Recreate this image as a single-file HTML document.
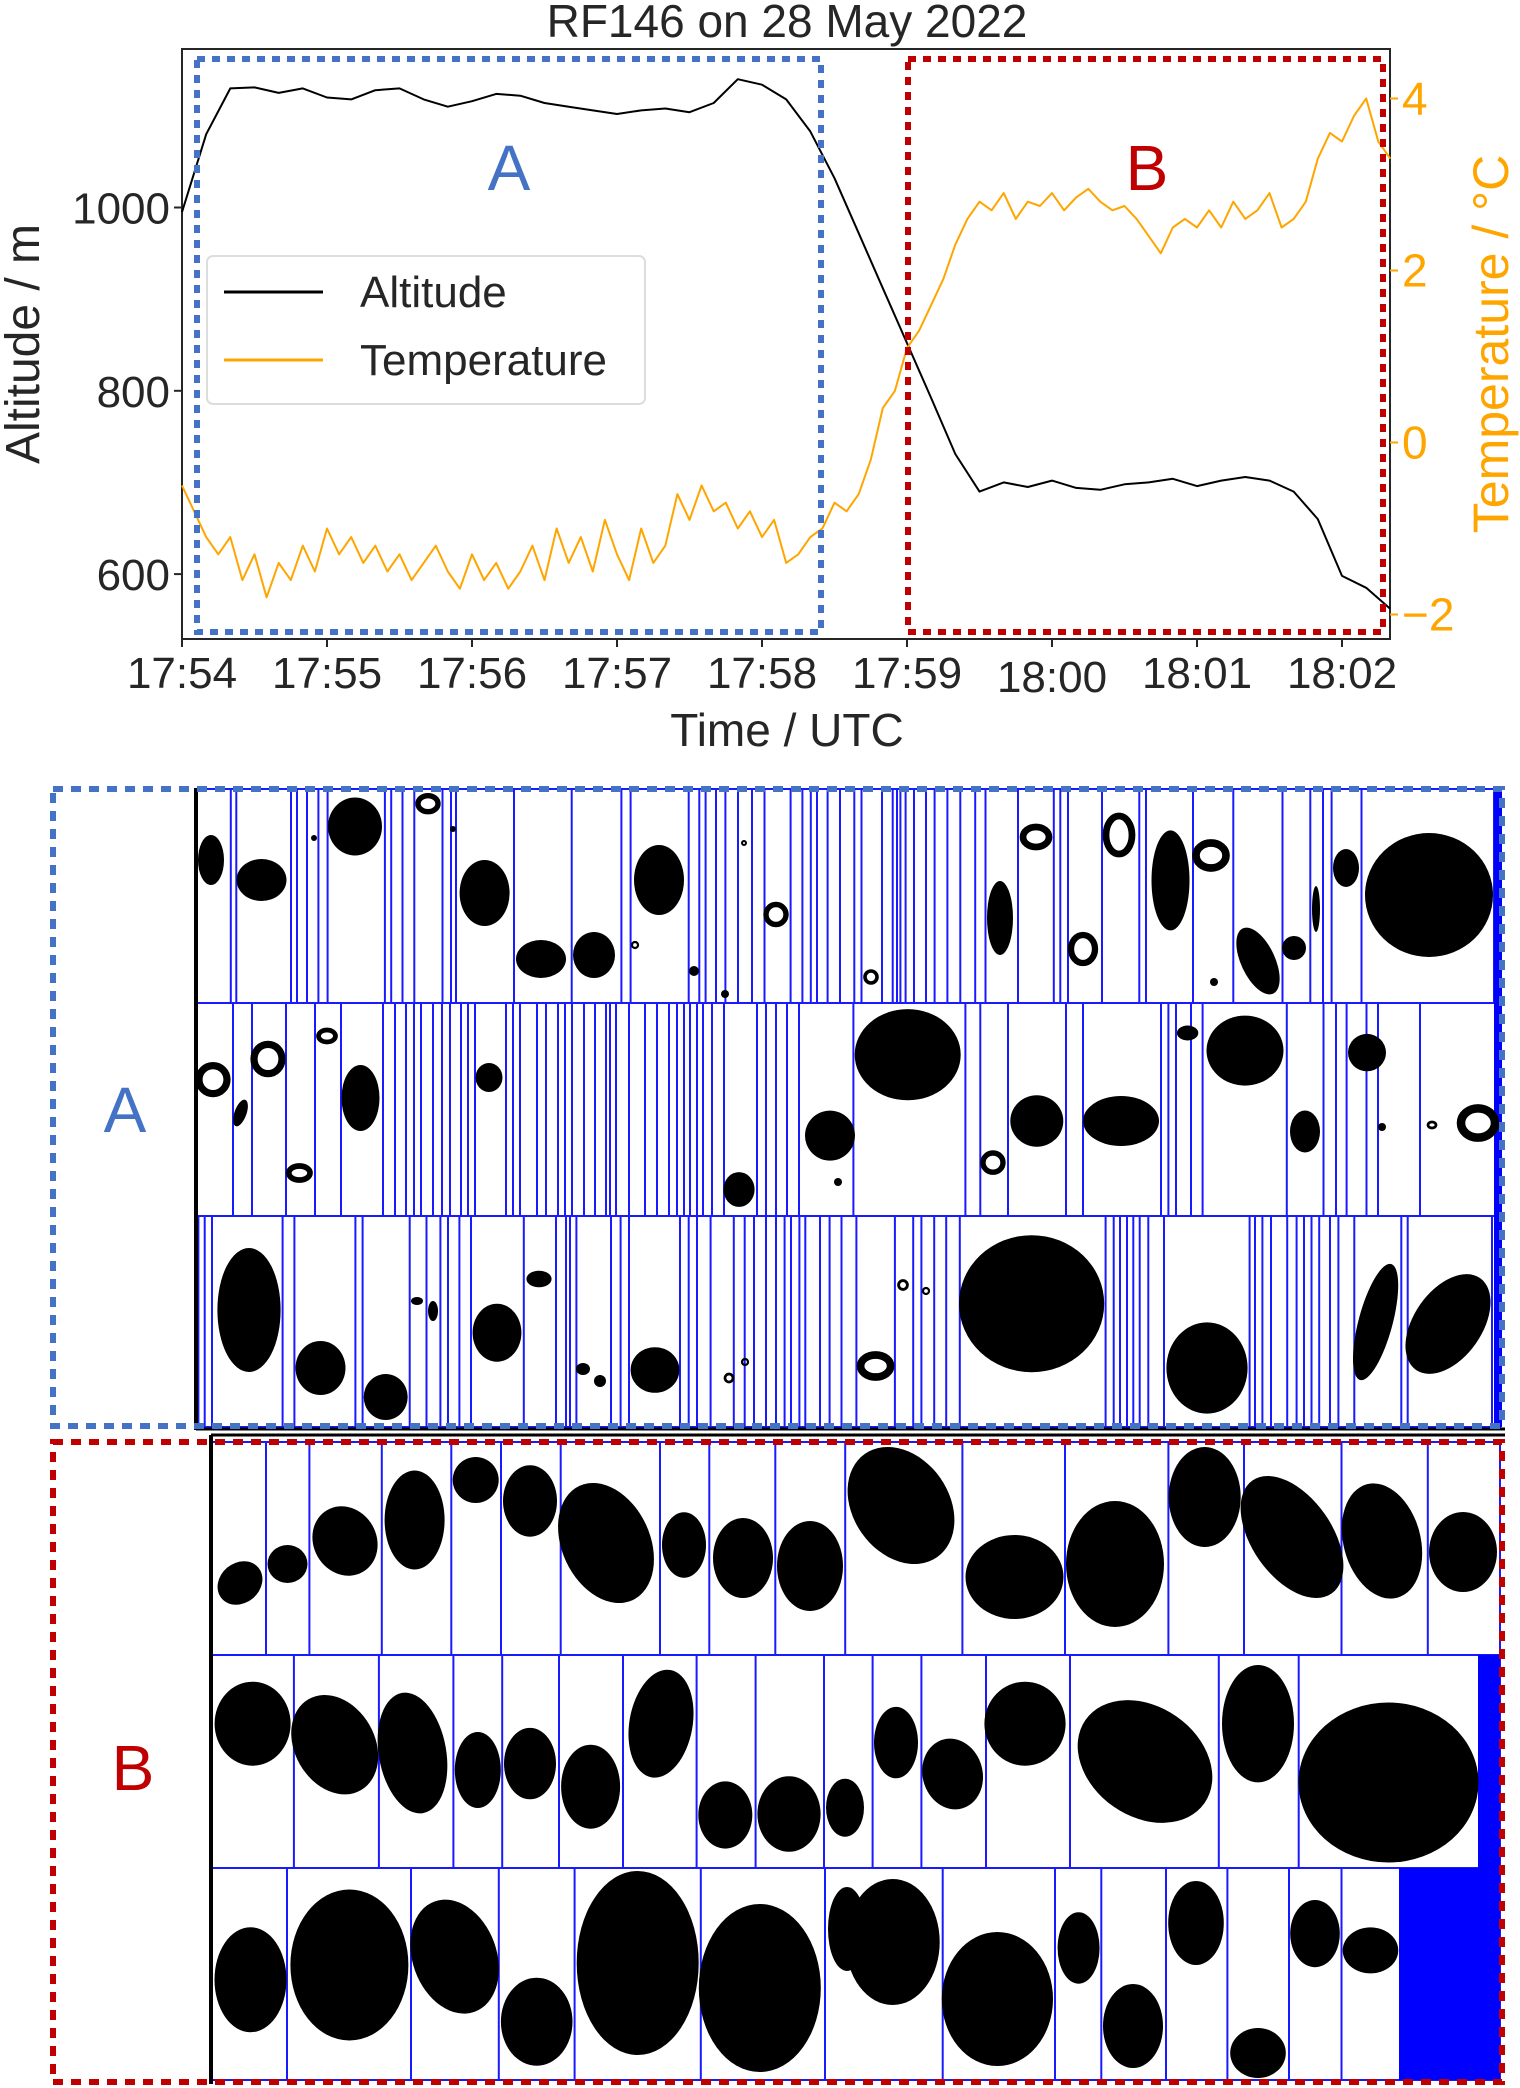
<!DOCTYPE html>
<html><head><meta charset="utf-8"><style>
html,body{margin:0;padding:0;background:#fff;}
svg{display:block;font-family:"Liberation Sans",Arial,sans-serif;}
</style></head><body>
<svg id="fig" width="1520" height="2088" viewBox="0 0 1520 2088" xmlns="http://www.w3.org/2000/svg">
<rect x="0" y="0" width="1520" height="2088" fill="#fff"/>
<g id="chart"></g>
<g id="panels"></g>
</svg>
<script>
// ---------- chart data ----------
const altTimes = [0,10,20,30,40,50,60,70,80,90,100,110,120,130,140,150,160,170,180,190,200,210,220,230,240,250,260,270,280,290,300,310,320,330,340,350,360,370,380,390,400,410,420,430,440,450,460,470,480,490,500];
const altitudeValues = [995,1080,1130,1131,1125,1130,1120,1118,1128,1130,1118,1110,1116,1124,1122,1114,1110,1106,1102,1106,1108,1104,1114,1140,1134,1118,1083,1032,972,912,852,792,731,690,700,695,702,694,692,698,700,704,696,702,706,702,690,660,598,585,562];
const tempTimes = [0,5,10,15,20,25,30,35,40,45,50,55,60,65,70,75,80,85,90,95,100,105,110,115,120,125,130,135,140,145,150,155,160,165,170,175,180,185,190,195,200,205,210,215,220,225,230,235,240,245,250,255,260,265,270,275,280,285,290,295,300,305,310,315,320,325,330,335,340,345,350,355,360,365,370,375,380,385,390,395,400,405,410,415,420,425,430,435,440,445,450,455,460,465,470,475,480,485,490,495,500];
const temperatureValues = [-0.5,-0.8,-1.1,-1.3,-1.1,-1.6,-1.3,-1.8,-1.4,-1.6,-1.2,
 -1.5,-1.0,-1.3,-1.1,-1.4,-1.2,-1.5,-1.3,-1.6,-1.4,
 -1.2,-1.5,-1.7,-1.3,-1.6,-1.4,-1.7,-1.5,-1.2,-1.6,
 -1.0,-1.4,-1.1,-1.5,-0.9,-1.3,-1.6,-1.0,-1.4,-1.2,
 -0.6,-0.9,-0.5,-0.8,-0.7,-1.0,-0.8,-1.1,-0.9,-1.4,
 -1.3,-1.1,-1.0,-0.7,-0.8,-0.6,-0.2,0.4,0.6,1.1,
 1.3,1.6,1.9,2.3,2.6,2.8,2.7,2.9,2.6,2.8,
 2.75,2.9,2.7,2.85,2.95,2.8,2.7,2.75,2.6,2.4,
 2.2,2.5,2.6,2.5,2.7,2.5,2.8,2.6,2.7,2.9,
 2.5,2.6,2.8,3.3,3.6,3.5,3.8,4.0,3.5,3.3];
const xTickLabels = ["17:54","17:55","17:56","17:57","17:58","17:59","18:00","18:01","18:02"];
const altTicks = [600,800,1000];
const tempTicks = [-2,0,2,4];

// ---------- axes ----------
const PL=182, PR=1390, PT=49, PB=639;
function xS(t){return PL + t*145/60;}
function altY(a){return 207.5 + (1000-a)*0.9165;}
function tempY(T){return 442.5 - T*86;}
const NS="http://www.w3.org/2000/svg";
function mk(tag, attrs, parent, text){
  const e=document.createElementNS(NS,tag);
  for(const k in attrs) e.setAttribute(k,attrs[k]);
  if(text!==undefined) e.textContent=text;
  parent.appendChild(e); return e;
}
const chart=document.getElementById('chart');
let e;
e=mk('text',{x:787,y:37,'font-size':46,'text-anchor':'middle',fill:'#262626'},chart,'RF146 on 28 May 2022');


e=mk('rect',{x:PL,y:PT,width:PR-PL,height:PB-PT,fill:'none',stroke:'#262626','stroke-width':2},chart);



// x ticks
xTickLabels.forEach((lab,i)=>{
  const x=xS(i*60);
  const t=mk('line',{x1:x,y1:PB,x2:x,y2:PB+8,stroke:'#262626','stroke-width':2},chart);
  
  
  const tx=mk('text',{x:x,y:i===6?692:688,'font-size':44,'text-anchor':'middle',fill:'#262626'},chart,lab);
  
  
});
altTicks.forEach(v=>{
  const y=altY(v);
  const t=mk('line',{x1:PL-8,y1:y,x2:PL,y2:y,stroke:'#262626','stroke-width':2},chart);
  
  
  const tx=mk('text',{x:PL-12,y:y+16,'font-size':44,'text-anchor':'end',fill:'#262626'},chart,String(v));
  
  
});
tempTicks.forEach(v=>{
  const y=tempY(v);
  const t=mk('line',{x1:PR,y1:y,x2:PR+8,y2:y,stroke:'#FFA500','stroke-width':2},chart);
  
  
  const tx=mk('text',{x:PR+12,y:y+16,'font-size':46,'text-anchor':'start',fill:'#FFA500'},chart,v<0?'\u2212'+Math.abs(v):String(v));
  
  
});
e=mk('text',{x:787,y:746,'font-size':46,'text-anchor':'middle',fill:'#262626'},chart,'Time / UTC');


e=mk('text',{x:0,y:0,'font-size':48,'text-anchor':'middle',fill:'#262626',transform:'translate(39,344) rotate(-90)'},chart,'Altitude / m');


e=mk('text',{x:0,y:0,'font-size':50,'text-anchor':'middle',fill:'#FFA500',transform:'translate(1508,344) rotate(-90)'},chart,'Temperature / \u00B0C');



// series
let d='';
altTimes.forEach((t,i)=>{d+=(i?'L':'M')+xS(t).toFixed(1)+','+altY(altitudeValues[i]).toFixed(1);});
e=mk('path',{d:d,fill:'none',stroke:'#000','stroke-width':2,'stroke-linejoin':'round'},chart);


d='';
tempTimes.forEach((t,i)=>{d+=(i?'L':'M')+xS(t).toFixed(1)+','+tempY(temperatureValues[i]).toFixed(1);});
e=mk('path',{d:d,fill:'none',stroke:'#FFA500','stroke-width':2,'stroke-linejoin':'round'},chart);



// region boxes
e=mk('rect',{x:197,y:59,width:624,height:573,fill:'none',stroke:'#4472C4','stroke-width':6,'stroke-dasharray':'8 7'},chart);


e=mk('rect',{x:908,y:59,width:475,height:573,fill:'none',stroke:'#C00000','stroke-width':6,'stroke-dasharray':'8 7'},chart);


e=mk('text',{x:509,y:190,'font-size':64,'text-anchor':'middle',fill:'#4472C4'},chart,'A');


e=mk('text',{x:1147,y:190,'font-size':64,'text-anchor':'middle',fill:'#C00000'},chart,'B');



// legend
const lg=mk('g',{},chart);


mk('rect',{x:207,y:256,width:438,height:148,rx:6,fill:'#fff',stroke:'#ddd','stroke-width':2},lg);
e=mk('line',{x1:224,y1:292,x2:323,y2:292,stroke:'#000','stroke-width':3},lg);


e=mk('text',{x:360,y:307,'font-size':44,fill:'#262626'},lg,'Altitude');


e=mk('line',{x1:224,y1:360,x2:323,y2:360,stroke:'#FFA500','stroke-width':3},lg);


e=mk('text',{x:360,y:375,'font-size':44,fill:'#262626'},lg,'Temperature');



// ---------- particle image panels ----------
const P=document.getElementById('panels');
const rowsA=[[789,1003],[1003,1216],[1216,1427]];
const rowsB=[[1442,1655],[1655,1868],[1868,2080]];
const linesA=[
 [230.8,236.3,291,297,307,318.4,327.6,384.9,391.2,402.5,414.3,442.5,451,456,514,571.7,621.4,630.6,688.7,699.3,705.6,716,725.4,738,752,764.5,790.6,802.4,810.8,817,827.6,840,854.3,861.5,882,892.7,897,900.4,905.6,914,926,934.6,947.4,960.3,975.2,985.5,1018,1053.8,1060.3,1068,1102,1139.3,1146,1193,1233.3,1282.5,1310.3,1323,1331.6,1361.5,1494],
 [233,252,286,315,341,383,395,406,414,421,433,442,450,461,468,475,506,513,520,537,546,558,565,572,584,595,606,610,616,629,645,657,669,677,684,690,697,703,712,724,757,766,776,787,799,853.4,965.4,980.3,1008,1066,1083,1161,1168.4,1176,1191,1202.6,1286.8,1323.5,1336,1346.6,1366.5,1378,1420],
 [198.4,204.7,212,282.6,294.4,355.4,362.6,409.7,426.5,440.4,448,459.4,471,523.8,556,566,570,576.4,611,620.6,629,680,688.7,697,710.6,733.8,744.7,754,766,776,784.6,791,799.4,805.3,820,829.6,841.5,856.4,894.9,913.2,921.4,934.2,946.2,959.8,1105.6,1113.7,1120,1127,1133.3,1139.7,1148.3,1164,1249.6,1255,1262.4,1271,1287.2,1296.6,1304,1311.5,1319.2,1330,1338.4,1354.3,1401.3,1407.7,1492]
];
const linesB=[
 [266,309.4,381.8,451.3,501,560.7,660,709.3,775.3,845.2,962.4,1065,1168.4,1244,1341.5,1427.8],
 [293.9,378.9,453.4,502.2,559,623,696.6,755.6,824,872.6,921.4,986,1070,1218.8,1298.7],
 [287,411,498.8,574.6,700.8,825,942.7,1055,1101.3,1166,1227.4,1289,1341.5]
];
// solid blobs [cx, cy, rx, ry, rotation]
const blobsA=[
 [211,860,13,25,0],[261.5,880,25,21,0],[355,826.5,27,29,0],[484.6,893,25,33,0],[541,959,25,19,0],[594,955,21,23,0],[659,880,25,35,0],
 [1170.5,880.4,19,50,0],[1258,961,17,36,-25],[1000,918,13,37,0],[1294,948,12,12,0],[1346,868,13,19,0],[1429,895,64,62,0],[1316,909,4,23,0],
 [240.5,1113,6,14,20],[360.5,1098,19,33,0],[489,1077.5,13.5,14.5,0],[739,1189.5,15.6,17.4,0],[830,1135.6,25,25,0],
 [907.7,1054.7,53,45.6,0],[1036.8,1121,26.5,25.7,0],[1121,1121,38,25,0],[1245,1050.6,38.5,35,0],[1305,1131.5,15,21,0],[1367,1052.6,19,18.7,0],[1187.6,1033,10.7,7.5,0],
 [249,1310,31.6,62,0],[320.5,1368,25,27,0],[385.7,1397,22,23,0],[497,1332.7,24.4,29,0],[655,1370,24.4,22.8,0],[539,1279,12.6,8.3,0],[433,1311,5,10,0],[417,1301,6,4,0],[583,1369,7,6,0],[600,1381,6,6,0],
 [1031.6,1303.7,72.6,68.5,0],[1207,1368,40.6,45.6,0],[1375.6,1322,17,60,15],[1448,1324,34,56,35],
 [694,971,5,5,0],[453,829,3,3,0],[314,838,3,3,0],[725,994,4,4,0],[838,1182,4,4,0],[1214,982,4,4,0],[1382,1127,4,4,0]
];
const ringsA=[
 [776,914.5,12,12],[428,803.7,12,10],[1036,837,15,12],[1119,835,15,21],[1211,855.5,17,14.5],[1083,949,14,16],[871,977,8,8],
 [213,1079.6,16,16],[268,1059,16,16.6],[327,1036,10.5,8],[299.4,1173,12.6,9],[993,1162.6,12,11.6],[1478,1123,19,16.6],[1432,1125,6,5],
 [875.6,1366,17,13],[903,1285,6.4,6.4],[729,1378,6,6],[926,1291,5,5],[745,1362,5,5],[635,945,5,5],[744,843,4,4],[1348,862,6,6]
];
const blobsB=[
 [240,1583,24,20,-40],[287.5,1564,20,19,0],[345,1541,31.5,35.7,-30],[414.6,1520,30,49.5,0],[475.7,1480,23,23,0],[530,1501,27,35.7,0],[606,1543,44,63,-25],[684,1545,22,32.7,0],[743,1558,30,40,0],[810,1566,33,45,0],
 [901,1505.5,48,63,-35],[1014.5,1577,49,42,0],[1115,1564,49,63,0],[1204.7,1497,36,50,0],[1292,1537,40,69,-35],[1382,1541,38.5,58.7,-15],[1463,1552,34,40,0],
 [252.6,1723.7,38,42,0],[334.7,1744.7,40,52.5,-30],[412.5,1753,33.7,61,-10],[477.8,1770,23,38,0],[530,1763.6,26,35.7,0],[590.6,1786.7,29.5,42,0],[661,1723.7,31.6,54.5,10],[725.3,1815,27,33.6,0],[789,1814,31.6,37.8,0],[845,1807.7,19,29,0],
 [896,1742.6,22,35.7,0],[952.6,1774,30,35.7,-15],[1025,1723.7,40.6,42,0],[1145,1761.5,72.6,55,35],[1258,1723.7,36,58.7,0],[1388.5,1782.5,90,80,0],
 [250.5,1979.7,36,52.5,0],[349.4,1965,59,75.5,0],[454.6,1956.6,42,58.7,-20],[536.7,2021.7,35.8,44,0],[637.7,1963,61,92,0],[759.8,1988,61,84,0],[847,1929,19,42,0],
 [892.7,1942,47,63,0],[997.4,1999,55.6,67,0],[1078.6,1948,21,35.7,0],[1133,2026,30,42,0],[1196,1923,27.8,42,0],[1258,2053,27.8,25,0],[1315,1933.6,24.8,33.6,0],[1370.5,1950.4,27.8,23,0]
];

function panel(rows, lines, x0, x1, name){
  const g=mk('g',{},P);
  
  
  rows.forEach((r,i)=>{
    mk('rect',{x:x0,y:r[0],width:x1-x0,height:r[1]-r[0],fill:'#fff',stroke:'#1a1aff','stroke-width':2},g);
    lines[i].forEach(x=>{
      const l=mk('line',{x1:x,y1:r[0],x2:x,y2:r[1],stroke:'#1a1aff','stroke-width':2},g);
      
      
    });
  });
  return g;
}
const gA=panel(rowsA,linesA,197,1500,'panel-a-images');
const gB=panel(rowsB,linesB,212,1500,'panel-b-images');
// blue fills at end of B
e=mk('rect',{x:1478,y:1655,width:22,height:213,fill:'#0000ff'},gB);


e=mk('rect',{x:1399,y:1868,width:101,height:212,fill:'#0000ff'},gB);


e=mk('rect',{x:1494,y:789,width:8,height:638,fill:'#0000ff'},gA);



function drawBlobs(list,g){
  list.forEach(b=>{
    const el=mk('ellipse',{cx:b[0],cy:b[1],rx:b[2],ry:b[3],fill:'#000',transform:'rotate('+b[4]+' '+b[0]+' '+b[1]+')'},g);
    
    
  });
}
drawBlobs(blobsA,gA);
drawBlobs(blobsB,gB);
ringsA.forEach(r=>{
  const el=mk('ellipse',{cx:r[0],cy:r[1],rx:r[2]-2,ry:r[3]-2,fill:'none',stroke:'#000','stroke-width':Math.max(2,r[2]*0.45)},gA);
  
  
});
// black panel borders
e=mk('line',{x1:196,y1:788,x2:196,y2:1430,stroke:'#000','stroke-width':4},P);


e=mk('line',{x1:196,y1:1429,x2:1505,y2:1429,stroke:'#000','stroke-width':3},P);


e=mk('line',{x1:211,y1:1435,x2:211,y2:2084,stroke:'#000','stroke-width':4},P);


e=mk('line',{x1:211,y1:1435,x2:1505,y2:1435,stroke:'#000','stroke-width':3},P);


// dashed region boxes
e=mk('rect',{x:53,y:789,width:1449,height:637,fill:'none',stroke:'#4472C4','stroke-width':6,'stroke-dasharray':'10 8'},P);


e=mk('rect',{x:53,y:1442,width:1449,height:640,fill:'none',stroke:'#C00000','stroke-width':6,'stroke-dasharray':'10 8'},P);


e=mk('text',{x:125,y:1132,'font-size':64,'text-anchor':'middle',fill:'#4472C4'},P,'A');


e=mk('text',{x:133,y:1790,'font-size':64,'text-anchor':'middle',fill:'#C00000'},P,'B');


</script>
</body></html>
